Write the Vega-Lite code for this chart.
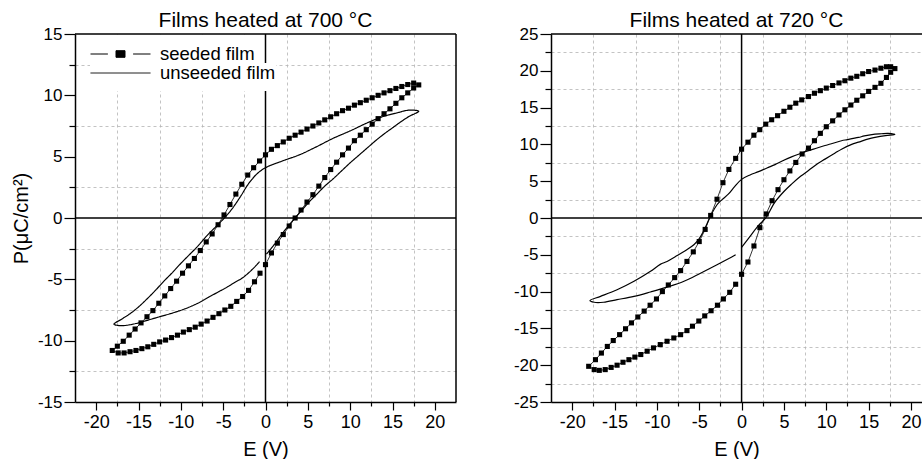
{
  "$schema": "https://vega.github.io/schema/vega-lite/v6.json",
  "padding": {"left": 11, "top": 10, "right": 0, "bottom": 0},
  "background": "white",
  "config": {
    "font": "Liberation Sans",
    "view": {"stroke": null},
    "axis": {
      "domainColor": "black", "domainWidth": 1.5,
      "tickColor": "black", "tickWidth": 1.2,
      "labelFont": "Liberation Sans", "labelFontSize": 17, "labelColor": "black", "labelPadding": 2,
      "titleFont": "Liberation Sans", "titleFontSize": 20, "titleFontWeight": "normal", "titleColor": "black",
      "gridColor": "#b4b4b4", "gridDash": [3, 3], "gridWidth": 0.8,
      "labelOverlap": false, "labelFlush": false
    },
    "legend": {"labelFont": "Liberation Sans", "labelFontSize": 18.5, "labelColor": "black"},
    "title": {"font": "Liberation Sans", "fontSize": 21, "fontWeight": "normal", "color": "black"}
  },
  "datasets": {
    "s700": [
      {"i":0,"E":0,"P":-3.8},{"i":1,"E":0.7,"P":-2.85},{"i":2,"E":1.4,"P":-2.05},{"i":3,"E":2.1,"P":-1.35},{"i":4,"E":2.8,"P":-0.65},{"i":5,"E":3.5,"P":0},{"i":6,"E":4.2,"P":0.65},{"i":7,"E":4.9,"P":1.3},{"i":8,"E":5.6,"P":1.9},{"i":9,"E":6.3,"P":2.6},{"i":10,"E":7.0,"P":3.3},{"i":11,"E":7.7,"P":3.95},{"i":12,"E":8.4,"P":4.55},{"i":13,"E":9.1,"P":5.15},{"i":14,"E":9.8,"P":5.7},{"i":15,"E":10.5,"P":6.3},{"i":16,"E":11.2,"P":6.75},{"i":17,"E":11.9,"P":7.2},{"i":18,"E":12.6,"P":7.65},{"i":19,"E":13.3,"P":8.1},{"i":20,"E":14.0,"P":8.5},{"i":21,"E":14.7,"P":8.9},{"i":22,"E":15.4,"P":9.35},{"i":23,"E":16.1,"P":9.8},{"i":24,"E":16.8,"P":10.2},{"i":25,"E":17.5,"P":10.6},{"i":26,"E":18.1,"P":10.85},
      {"i":27,"E":17.5,"P":11.0},{"i":28,"E":16.8,"P":10.88},{"i":29,"E":16.1,"P":10.72},{"i":30,"E":15.4,"P":10.56},{"i":31,"E":14.7,"P":10.38},{"i":32,"E":14.0,"P":10.2},{"i":33,"E":13.3,"P":10.0},{"i":34,"E":12.6,"P":9.8},{"i":35,"E":11.9,"P":9.6},{"i":36,"E":11.2,"P":9.4},{"i":37,"E":10.5,"P":9.2},{"i":38,"E":9.8,"P":8.95},{"i":39,"E":9.1,"P":8.75},{"i":40,"E":8.4,"P":8.5},{"i":41,"E":7.7,"P":8.25},{"i":42,"E":7.0,"P":8.0},{"i":43,"E":6.3,"P":7.75},{"i":44,"E":5.6,"P":7.5},{"i":45,"E":4.9,"P":7.25},{"i":46,"E":4.2,"P":7.0},{"i":47,"E":3.5,"P":6.75},{"i":48,"E":2.8,"P":6.5},{"i":49,"E":2.1,"P":6.2},{"i":50,"E":1.4,"P":5.9},{"i":51,"E":0.7,"P":5.6},{"i":52,"E":0,"P":5.15},
      {"i":53,"E":-0.7,"P":4.65},{"i":54,"E":-1.4,"P":4.1},{"i":55,"E":-2.1,"P":3.5},{"i":56,"E":-2.8,"P":2.75},{"i":57,"E":-3.5,"P":1.95},{"i":58,"E":-4.2,"P":1.1},{"i":59,"E":-4.9,"P":0.25},{"i":60,"E":-5.6,"P":-0.55},{"i":61,"E":-6.3,"P":-1.3},{"i":62,"E":-7.0,"P":-1.95},{"i":63,"E":-7.7,"P":-2.65},{"i":64,"E":-8.4,"P":-3.3},{"i":65,"E":-9.1,"P":-3.9},{"i":66,"E":-9.8,"P":-4.5},{"i":67,"E":-10.5,"P":-5.15},{"i":68,"E":-11.2,"P":-5.75},{"i":69,"E":-11.9,"P":-6.35},{"i":70,"E":-12.6,"P":-6.95},{"i":71,"E":-13.3,"P":-7.55},{"i":72,"E":-14.0,"P":-8.05},{"i":73,"E":-14.7,"P":-8.55},{"i":74,"E":-15.4,"P":-9.05},{"i":75,"E":-16.1,"P":-9.55},{"i":76,"E":-16.8,"P":-10.05},{"i":77,"E":-17.5,"P":-10.45},{"i":78,"E":-18.1,"P":-10.8},
      {"i":79,"E":-17.4,"P":-11.0},{"i":80,"E":-16.7,"P":-11.0},{"i":81,"E":-16.0,"P":-10.9},{"i":82,"E":-15.3,"P":-10.8},{"i":83,"E":-14.6,"P":-10.65},{"i":84,"E":-13.9,"P":-10.5},{"i":85,"E":-13.2,"P":-10.3},{"i":86,"E":-12.5,"P":-10.1},{"i":87,"E":-11.8,"P":-9.95},{"i":88,"E":-11.1,"P":-9.75},{"i":89,"E":-10.4,"P":-9.55},{"i":90,"E":-9.7,"P":-9.3},{"i":91,"E":-9.0,"P":-9.1},{"i":92,"E":-8.3,"P":-8.9},{"i":93,"E":-7.6,"P":-8.65},{"i":94,"E":-6.9,"P":-8.4},{"i":95,"E":-6.2,"P":-8.1},{"i":96,"E":-5.5,"P":-7.8},{"i":97,"E":-4.8,"P":-7.5},{"i":98,"E":-4.1,"P":-7.2},{"i":99,"E":-3.4,"P":-6.8},{"i":100,"E":-2.7,"P":-6.4},{"i":101,"E":-2.0,"P":-5.9},{"i":102,"E":-1.3,"P":-5.2},{"i":103,"E":-0.65,"P":-4.5}
    ],
    "u700": [
      {"i":0,"E":0.1,"P":-2.95},{"i":1,"E":1,"P":-2.2},{"i":2,"E":2,"P":-1.25},{"i":3,"E":3,"P":-0.4},{"i":4,"E":4,"P":0.4},{"i":5,"E":5,"P":1.2},{"i":6,"E":6,"P":1.9},{"i":7,"E":7,"P":2.6},{"i":8,"E":8,"P":3.2},{"i":9,"E":9,"P":3.85},{"i":10,"E":10,"P":4.5},{"i":11,"E":11,"P":5.1},{"i":12,"E":12,"P":5.7},{"i":13,"E":13,"P":6.3},{"i":14,"E":14,"P":6.85},{"i":15,"E":15,"P":7.35},{"i":16,"E":16,"P":7.85},{"i":17,"E":17,"P":8.3},{"i":18,"E":18.1,"P":8.7},
      {"i":19,"E":17.3,"P":8.8},{"i":20,"E":16.5,"P":8.75},{"i":21,"E":15.7,"P":8.6},{"i":22,"E":14,"P":8.3},{"i":23,"E":12,"P":7.75},{"i":24,"E":10,"P":7.1},{"i":25,"E":8,"P":6.5},{"i":26,"E":6,"P":5.8},{"i":27,"E":4,"P":5.15},{"i":28,"E":2,"P":4.65},{"i":29,"E":0,"P":4.1},
      {"i":30,"E":-1,"P":3.6},{"i":31,"E":-2,"P":2.8},{"i":32,"E":-3,"P":1.7},{"i":33,"E":-4,"P":0.7},{"i":34,"E":-5,"P":-0.1},{"i":35,"E":-6,"P":-0.8},{"i":36,"E":-7,"P":-1.5},{"i":37,"E":-8,"P":-2.3},{"i":38,"E":-9,"P":-3.0},{"i":39,"E":-10,"P":-3.7},{"i":40,"E":-11,"P":-4.45},{"i":41,"E":-12,"P":-5.15},{"i":42,"E":-13,"P":-5.9},{"i":43,"E":-14,"P":-6.6},{"i":44,"E":-15,"P":-7.25},{"i":45,"E":-16,"P":-7.8},{"i":46,"E":-17,"P":-8.25},{"i":47,"E":-17.9,"P":-8.65},
      {"i":48,"E":-17.5,"P":-8.75},{"i":49,"E":-16.9,"P":-8.78},{"i":50,"E":-16,"P":-8.7},{"i":51,"E":-15,"P":-8.55},{"i":52,"E":-14,"P":-8.35},{"i":53,"E":-12.6,"P":-8.07},{"i":54,"E":-11,"P":-7.75},{"i":55,"E":-9.5,"P":-7.4},{"i":56,"E":-8,"P":-6.95},{"i":57,"E":-6.7,"P":-6.45},{"i":58,"E":-5.5,"P":-6.0},{"i":59,"E":-4.7,"P":-5.7},{"i":60,"E":-3.5,"P":-5.2},{"i":61,"E":-2.75,"P":-4.9},{"i":62,"E":-1.5,"P":-4.15},{"i":63,"E":-0.7,"P":-3.55}
    ],
    "s720": [
      {"i":0,"E":0,"P":-7.65},{"i":1,"E":0.75,"P":-5.98},{"i":2,"E":1.46,"P":-3.8},{"i":3,"E":2.16,"P":-1.31},{"i":4,"E":2.9,"P":0.55},{"i":5,"E":3.6,"P":2.35},{"i":6,"E":4.3,"P":3.85},{"i":7,"E":5.0,"P":5.2},{"i":8,"E":5.7,"P":6.4},{"i":9,"E":6.4,"P":7.55},{"i":10,"E":7.15,"P":8.7},{"i":11,"E":7.9,"P":9.5},{"i":12,"E":8.6,"P":10.5},{"i":13,"E":9.3,"P":11.5},{"i":14,"E":10.0,"P":12.4},{"i":15,"E":10.75,"P":13.2},{"i":16,"E":11.5,"P":14.0},{"i":17,"E":12.2,"P":14.7},{"i":18,"E":12.9,"P":15.35},{"i":19,"E":13.6,"P":16.0},{"i":20,"E":14.3,"P":16.6},{"i":21,"E":15.0,"P":17.2},{"i":22,"E":15.75,"P":17.75},{"i":23,"E":16.45,"P":18.3},{"i":24,"E":17.1,"P":19.1},{"i":25,"E":17.6,"P":19.8},{"i":26,"E":18.1,"P":20.3},
      {"i":27,"E":17.6,"P":20.55},{"i":28,"E":17.1,"P":20.55},{"i":29,"E":16.45,"P":20.35},{"i":30,"E":15.75,"P":20.1},{"i":31,"E":15.0,"P":19.9},{"i":32,"E":14.3,"P":19.6},{"i":33,"E":13.6,"P":19.25},{"i":34,"E":12.9,"P":19.0},{"i":35,"E":12.2,"P":18.65},{"i":36,"E":11.5,"P":18.35},{"i":37,"E":10.75,"P":18.0},{"i":38,"E":10.0,"P":17.65},{"i":39,"E":9.3,"P":17.3},{"i":40,"E":8.6,"P":16.95},{"i":41,"E":7.9,"P":16.5},{"i":42,"E":7.1,"P":16.05},{"i":43,"E":6.4,"P":15.6},{"i":44,"E":5.7,"P":15.05},{"i":45,"E":5.0,"P":14.5},{"i":46,"E":4.25,"P":13.9},{"i":47,"E":3.55,"P":13.35},{"i":48,"E":2.85,"P":12.75},{"i":49,"E":2.15,"P":12.0},{"i":50,"E":1.45,"P":11.25},{"i":51,"E":0.75,"P":10.3},{"i":52,"E":0,"P":9.35},
      {"i":53,"E":-0.7,"P":8.1},{"i":54,"E":-1.5,"P":6.6},{"i":55,"E":-2.2,"P":4.8},{"i":56,"E":-2.9,"P":2.55},{"i":57,"E":-3.65,"P":0.35},{"i":58,"E":-4.3,"P":-1.55},{"i":59,"E":-5.0,"P":-3.2},{"i":60,"E":-5.7,"P":-4.6},{"i":61,"E":-6.45,"P":-5.9},{"i":62,"E":-7.2,"P":-7.15},{"i":63,"E":-7.9,"P":-8.1},{"i":64,"E":-8.65,"P":-9.1},{"i":65,"E":-9.35,"P":-10.0},{"i":66,"E":-10.05,"P":-11.0},{"i":67,"E":-10.8,"P":-11.85},{"i":68,"E":-11.5,"P":-12.65},{"i":69,"E":-12.25,"P":-13.45},{"i":70,"E":-13.0,"P":-14.25},{"i":71,"E":-13.7,"P":-15.05},{"i":72,"E":-14.4,"P":-15.85},{"i":73,"E":-15.15,"P":-16.65},{"i":74,"E":-15.85,"P":-17.45},{"i":75,"E":-16.55,"P":-18.35},{"i":76,"E":-17.25,"P":-19.25},{"i":77,"E":-18.05,"P":-20.15},
      {"i":78,"E":-17.4,"P":-20.6},{"i":79,"E":-16.8,"P":-20.7},{"i":80,"E":-16.1,"P":-20.6},{"i":81,"E":-15.4,"P":-20.3},{"i":82,"E":-14.7,"P":-20.0},{"i":83,"E":-14.0,"P":-19.6},{"i":84,"E":-13.3,"P":-19.25},{"i":85,"E":-12.6,"P":-18.9},{"i":86,"E":-11.9,"P":-18.55},{"i":87,"E":-11.15,"P":-18.1},{"i":88,"E":-10.4,"P":-17.65},{"i":89,"E":-9.6,"P":-17.2},{"i":90,"E":-8.8,"P":-16.75},{"i":91,"E":-8.0,"P":-16.3},{"i":92,"E":-7.2,"P":-15.85},{"i":93,"E":-6.45,"P":-15.3},{"i":94,"E":-5.8,"P":-14.7},{"i":95,"E":-5.05,"P":-14.0},{"i":96,"E":-4.35,"P":-13.3},{"i":97,"E":-3.6,"P":-12.6},{"i":98,"E":-2.85,"P":-11.85},{"i":99,"E":-2.15,"P":-11.0},{"i":100,"E":-1.4,"P":-10.1},{"i":101,"E":-0.7,"P":-9.0}
    ],
    "u720": [
      {"i":0,"E":0,"P":-4.0},{"i":1,"E":1,"P":-2.5},{"i":2,"E":2,"P":-1.0},{"i":3,"E":2.85,"P":0},{"i":4,"E":3.9,"P":2.1},{"i":5,"E":5,"P":3.6},{"i":6,"E":5.9,"P":4.6},{"i":7,"E":7,"P":5.7},{"i":8,"E":7.9,"P":6.45},{"i":9,"E":9,"P":7.4},{"i":10,"E":9.85,"P":8.0},{"i":11,"E":11,"P":8.8},{"i":12,"E":11.8,"P":9.35},{"i":13,"E":13,"P":10.0},{"i":14,"E":13.8,"P":10.3},{"i":15,"E":15,"P":10.75},{"i":16,"E":15.75,"P":10.95},{"i":17,"E":17,"P":11.2},{"i":18,"E":18.1,"P":11.35},
      {"i":19,"E":17.3,"P":11.5},{"i":20,"E":16.5,"P":11.45},{"i":21,"E":15.75,"P":11.4},{"i":22,"E":14.5,"P":11.15},{"i":23,"E":13.8,"P":10.95},{"i":24,"E":12.5,"P":10.65},{"i":25,"E":11.8,"P":10.5},{"i":26,"E":10.5,"P":10.05},{"i":27,"E":9.85,"P":9.85},{"i":28,"E":8.5,"P":9.35},{"i":29,"E":7.9,"P":9.15},{"i":30,"E":6.8,"P":8.7},{"i":31,"E":5.9,"P":8.3},{"i":32,"E":4.8,"P":7.75},{"i":33,"E":3.95,"P":7.25},{"i":34,"E":3,"P":6.8},{"i":35,"E":2,"P":6.3},{"i":36,"E":1,"P":5.85},{"i":37,"E":0,"P":5.25},
      {"i":38,"E":-0.8,"P":4.3},{"i":39,"E":-1.6,"P":3.2},{"i":40,"E":-2.3,"P":2.5},{"i":41,"E":-2.9,"P":1.8},{"i":42,"E":-3.65,"P":0.3},{"i":43,"E":-4.45,"P":-1.7},{"i":44,"E":-5.0,"P":-2.8},{"i":45,"E":-5.6,"P":-3.6},{"i":46,"E":-6.6,"P":-4.4},{"i":47,"E":-7.6,"P":-5.1},{"i":48,"E":-8.8,"P":-5.9},{"i":49,"E":-9.6,"P":-6.3},{"i":50,"E":-10.75,"P":-7.25},{"i":51,"E":-12.7,"P":-8.6},{"i":52,"E":-14.7,"P":-9.75},{"i":53,"E":-16.65,"P":-10.65},{"i":54,"E":-17.9,"P":-11.2},
      {"i":55,"E":-17.4,"P":-11.45},{"i":56,"E":-16.3,"P":-11.45},{"i":57,"E":-14.7,"P":-11.1},{"i":58,"E":-12.7,"P":-10.65},{"i":59,"E":-10.75,"P":-10.05},{"i":60,"E":-8.8,"P":-9.4},{"i":61,"E":-6.8,"P":-8.6},{"i":62,"E":-4.85,"P":-7.5},{"i":63,"E":-2.9,"P":-6.35},{"i":64,"E":-1.5,"P":-5.5},{"i":65,"E":-0.7,"P":-5.0}
    ]
  },
  "spacing": 56,
  "resolve": {"scale": {"color": "independent", "strokeDash": "independent"}, "legend": {"color": "independent", "strokeDash": "independent"}},
  "hconcat": [
    {
      "width": 381,
      "height": 368,
      "title": {"text": "Films heated at 700 °C", "offset": -6, "frame": "group"},
      "resolve": {"axis": {"x": "independent", "y": "independent"}},
      "layer": [
        {
          "data": {"name": "u700"},
          "mark": {"type": "line", "strokeWidth": 1.2, "color": "black", "interpolate": "catmull-rom"},
          "encoding": {
            "x": {"field": "E", "type": "quantitative",
              "scale": {"domain": [-22.5, 22.5], "nice": false, "zero": false},
              "axis": {"orient": "bottom", "title": "E (V)", "values": [-20,-15,-10,-5,0,5,10,15,20],
                "grid": false, "domain": true, "tickSize": 8, "labelFontSize": 18,
                "labelExpr": "'' + datum.value", "labelOverlap": false,
                "labelPadding": 3, "titlePadding": 8}},
            "y": {"field": "P", "type": "quantitative",
              "scale": {"domain": [-15, 15], "nice": false, "zero": false},
              "axis": {"orient": "left", "title": "P(μC/cm²)", "values": [-15,-10,-5,0,5,10,15],
                "grid": false, "domain": true, "tickSize": 11,
                "labelExpr": "'' + datum.value", "labelOverlap": false,
                "titlePadding": 6}},
            "order": {"field": "i", "type": "quantitative"},
            "strokeDash": {"datum": "unseeded film",
              "scale": {"domain": ["unseeded film"], "range": [[1, 0]]},
              "legend": {"title": " ", "titleOrient": "bottom", "titleFontSize": 8, "titlePadding": 0,
                "orient": "none", "legendX": 15, "legendY": 29,
                "fillColor": "white", "padding": 0, "symbolType": "M-1,0H1", "symbolSize": 3600,
                "symbolStrokeWidth": 1, "symbolStrokeColor": "black", "clipHeight": 20, "labelOffset": 9, "labelLimit": 300}}
          }
        },
        {
          "data": {"values": [{"v": 0}, {"v": 22.5}]},
          "mark": {"type": "rule", "color": "black", "strokeWidth": 1.5},
          "encoding": {"x": {"field": "v", "type": "quantitative", "scale": {"domain": [-22.5, 22.5], "nice": false, "zero": false}, "axis": null}}
        },
        {
          "data": {"values": [{"v": 0}, {"v": 15}]},
          "mark": {"type": "rule", "color": "black", "strokeWidth": 1.5},
          "encoding": {"y": {"field": "v", "type": "quantitative", "scale": {"domain": [-15, 15], "nice": false, "zero": false}, "axis": null}}
        },
        {
          "data": {"name": "s700"},
          "mark": {"type": "line", "strokeWidth": 0.8},
          "encoding": {
            "x": {"field": "E", "type": "quantitative", "scale": {"domain": [-22.5, 22.5], "nice": false, "zero": false}, "axis": null},
            "y": {"field": "P", "type": "quantitative", "scale": {"domain": [-15, 15], "nice": false, "zero": false}, "axis": null},
            "order": {"field": "i", "type": "quantitative"},
            "color": {"datum": "seeded film",
              "scale": {"domain": ["seeded film"], "range": ["black"]},
              "legend": {"title": " ", "titleOrient": "top", "titleFontSize": 9, "titlePadding": 0,
                "orient": "none", "legendX": 15, "legendY": 1,
                "fillColor": "white", "padding": 0,
                "symbolType": "M-1,0H-0.42M0.42,0H1M-0.15,-0.11H0.15V0.11H-0.15Z", "symbolSize": 3600,
                "symbolStrokeWidth": 1, "symbolFillColor": "black", "symbolStrokeColor": "black",
                "clipHeight": 20, "labelOffset": 9, "labelLimit": 300}}
          }
        },
        {
          "data": {"name": "s700"},
          "mark": {"type": "point", "shape": "square", "filled": true, "size": 26, "color": "black", "opacity": 1},
          "encoding": {
            "x": {"field": "E", "type": "quantitative", "scale": {"domain": [-22.5, 22.5], "nice": false, "zero": false},
              "axis": {"orient": "bottom", "title": null, "values": [-17.5,-12.5,-7.5,-2.5,2.5,7.5,12.5,17.5],
                "grid": true, "domain": false, "labels": false, "tickSize": 4}},
            "y": {"field": "P", "type": "quantitative", "scale": {"domain": [-15, 15], "nice": false, "zero": false},
              "axis": {"orient": "left", "title": null, "values": [-12.5,-7.5,-2.5,2.5,7.5,12.5],
                "grid": true, "domain": false, "labels": false, "tickSize": 6}}
          }
        }
      ]
    },
    {
      "width": 371,
      "height": 368,
      "title": {"text": "Films heated at 720 °C", "offset": -6, "frame": "group"},
      "resolve": {"axis": {"x": "independent", "y": "independent"}},
      "layer": [
        {
          "data": {"name": "u720"},
          "mark": {"type": "line", "strokeWidth": 1.2, "color": "black", "interpolate": "catmull-rom"},
          "encoding": {
            "x": {"field": "E", "type": "quantitative",
              "scale": {"domain": [-22.5, 21.3], "nice": false, "zero": false},
              "axis": {"orient": "bottom", "title": "E (V)", "values": [-20,-15,-10,-5,0,5,10,15,20],
                "grid": false, "domain": true, "tickSize": 8, "labelFontSize": 18,
                "labelExpr": "'' + datum.value", "labelOverlap": false,
                "labelPadding": 3, "titlePadding": 8}},
            "y": {"field": "P", "type": "quantitative",
              "scale": {"domain": [-25, 25], "nice": false, "zero": false},
              "axis": {"orient": "left", "title": null, "values": [-25,-20,-15,-10,-5,0,5,10,15,20,25],
                "grid": false, "domain": true, "tickSize": 11,
                "labelExpr": "'' + datum.value", "labelOverlap": false}},
            "order": {"field": "i", "type": "quantitative"}
          }
        },
        {
          "data": {"values": [{"v": 0}]},
          "mark": {"type": "rule", "color": "black", "strokeWidth": 1.5},
          "encoding": {"x": {"field": "v", "type": "quantitative", "scale": {"domain": [-22.5, 21.3], "nice": false, "zero": false}, "axis": null}}
        },
        {
          "data": {"values": [{"v": 0}, {"v": 25}]},
          "mark": {"type": "rule", "color": "black", "strokeWidth": 1.5},
          "encoding": {"y": {"field": "v", "type": "quantitative", "scale": {"domain": [-25, 25], "nice": false, "zero": false}, "axis": null}}
        },
        {
          "data": {"name": "s720"},
          "mark": {"type": "line", "strokeWidth": 0.8, "color": "black"},
          "encoding": {
            "x": {"field": "E", "type": "quantitative", "scale": {"domain": [-22.5, 21.3], "nice": false, "zero": false}, "axis": null},
            "y": {"field": "P", "type": "quantitative", "scale": {"domain": [-25, 25], "nice": false, "zero": false}, "axis": null},
            "order": {"field": "i", "type": "quantitative"}
          }
        },
        {
          "data": {"name": "s720"},
          "mark": {"type": "point", "shape": "square", "filled": true, "size": 26, "color": "black", "opacity": 1},
          "encoding": {
            "x": {"field": "E", "type": "quantitative", "scale": {"domain": [-22.5, 21.3], "nice": false, "zero": false},
              "axis": {"orient": "bottom", "title": null, "values": [-17.5,-12.5,-7.5,-2.5,2.5,7.5,12.5,17.5],
                "grid": true, "domain": false, "labels": false, "tickSize": 4}},
            "y": {"field": "P", "type": "quantitative", "scale": {"domain": [-25, 25], "nice": false, "zero": false},
              "axis": {"orient": "left", "title": null, "values": [-22.5,-17.5,-12.5,-7.5,-2.5,2.5,7.5,12.5,17.5,22.5],
                "grid": true, "domain": false, "labels": false, "tickSize": 6}}
          }
        }
      ]
    }
  ]
}
